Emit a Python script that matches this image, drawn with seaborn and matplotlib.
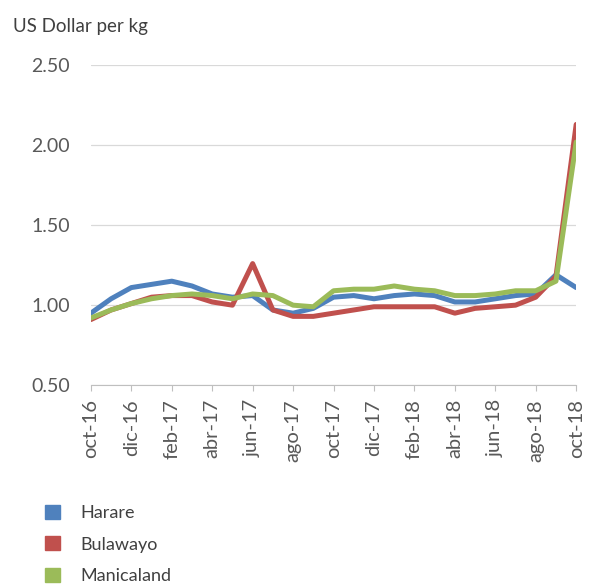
import pandas as pd
import seaborn as sns
import matplotlib.pyplot as plt
from matplotlib.patches import Patch

months = ["oct-16", "nov-16", "dic-16", "ene-17", "feb-17", "mar-17", "abr-17",
          "may-17", "jun-17", "jul-17", "ago-17", "sep-17", "oct-17", "nov-17",
          "dic-17", "ene-18", "feb-18", "mar-18", "abr-18", "may-18", "jun-18",
          "jul-18", "ago-18", "sep-18", "oct-18"]

harare = [0.95, 1.04, 1.11, 1.13, 1.15, 1.12, 1.07, 1.05, 1.06, 0.97, 0.95, 0.98, 1.05,
          1.06, 1.04, 1.06, 1.07, 1.06, 1.02, 1.02, 1.04, 1.06, 1.07, 1.19, 1.11]
bulawayo = [0.91, 0.97, 1.01, 1.05, 1.06, 1.06, 1.02, 1.00, 1.26, 0.97, 0.93, 0.93, 0.95,
            0.97, 0.99, 0.99, 0.99, 0.99, 0.95, 0.98, 0.99, 1.00, 1.05, 1.18, 2.13]
manicaland = [0.92, 0.97, 1.01, 1.04, 1.06, 1.07, 1.06, 1.04, 1.07, 1.06, 1.00, 0.99, 1.09,
              1.10, 1.10, 1.12, 1.10, 1.09, 1.06, 1.06, 1.07, 1.09, 1.09, 1.15, 2.02]

series = ["Harare", "Bulawayo", "Manicaland"]
colors = ["#4F81BD", "#C0504D", "#9BBB59"]

rows = []
for name, vals in zip(series, [harare, bulawayo, manicaland]):
    for i, v in enumerate(vals):
        rows.append({"idx": i, "month": months[i], "price": v, "region": name})
df = pd.DataFrame(rows)

sns.set_style("white")
plt.rcParams['font.family'] = ['Lato', 'DejaVu Sans']

fig = plt.figure(figsize=(5.94, 5.88), dpi=100)
ax = fig.add_axes([0.153, 0.345, 0.817, 0.544])

sns.lineplot(data=df, x="idx", y="price", hue="region", palette=colors,
             linewidth=3.6, legend=False, ax=ax)

ax.set_ylim(0.5, 2.5)
ax.set_yticks([0.5, 1.0, 1.5, 2.0, 2.5])
ax.set_yticklabels(["%.2f" % t for t in [0.5, 1.0, 1.5, 2.0, 2.5]])
ax.set_xlim(0, len(months) - 1)
ax.set_xticks(range(0, len(months), 2))
ax.set_xticklabels(months[::2], rotation=90)
ax.set_xlabel("")
ax.set_ylabel("")
ax.yaxis.grid(True, color="#d9d9d9", linewidth=0.9)
ax.set_axisbelow(True)

for s in ["top", "right", "left"]:
    ax.spines[s].set_visible(False)
ax.spines["bottom"].set_color("#bfbfbf")
ax.tick_params(axis="y", length=0, labelsize=14, colors="#595959", pad=15)
ax.tick_params(axis="x", direction="out", length=4, color="#bfbfbf", pad=6,
               labelsize=14.5, labelcolor="#595959", bottom=True)

fig.text(0.022, 0.955, "US Dollar per kg", fontsize=13.5, color="#404040", ha="left", va="center")

handles = [Patch(facecolor=c, edgecolor=c) for c in colors]
fig.legend(handles, series, loc="upper left", bbox_to_anchor=(0.076, 0.142),
           frameon=False, fontsize=13, handlelength=0.83, handleheight=0.83,
           labelspacing=0.85, handletextpad=1.1, borderpad=0, borderaxespad=0,
           labelcolor="#404040")

plt.savefig("out.png", dpi=100)
